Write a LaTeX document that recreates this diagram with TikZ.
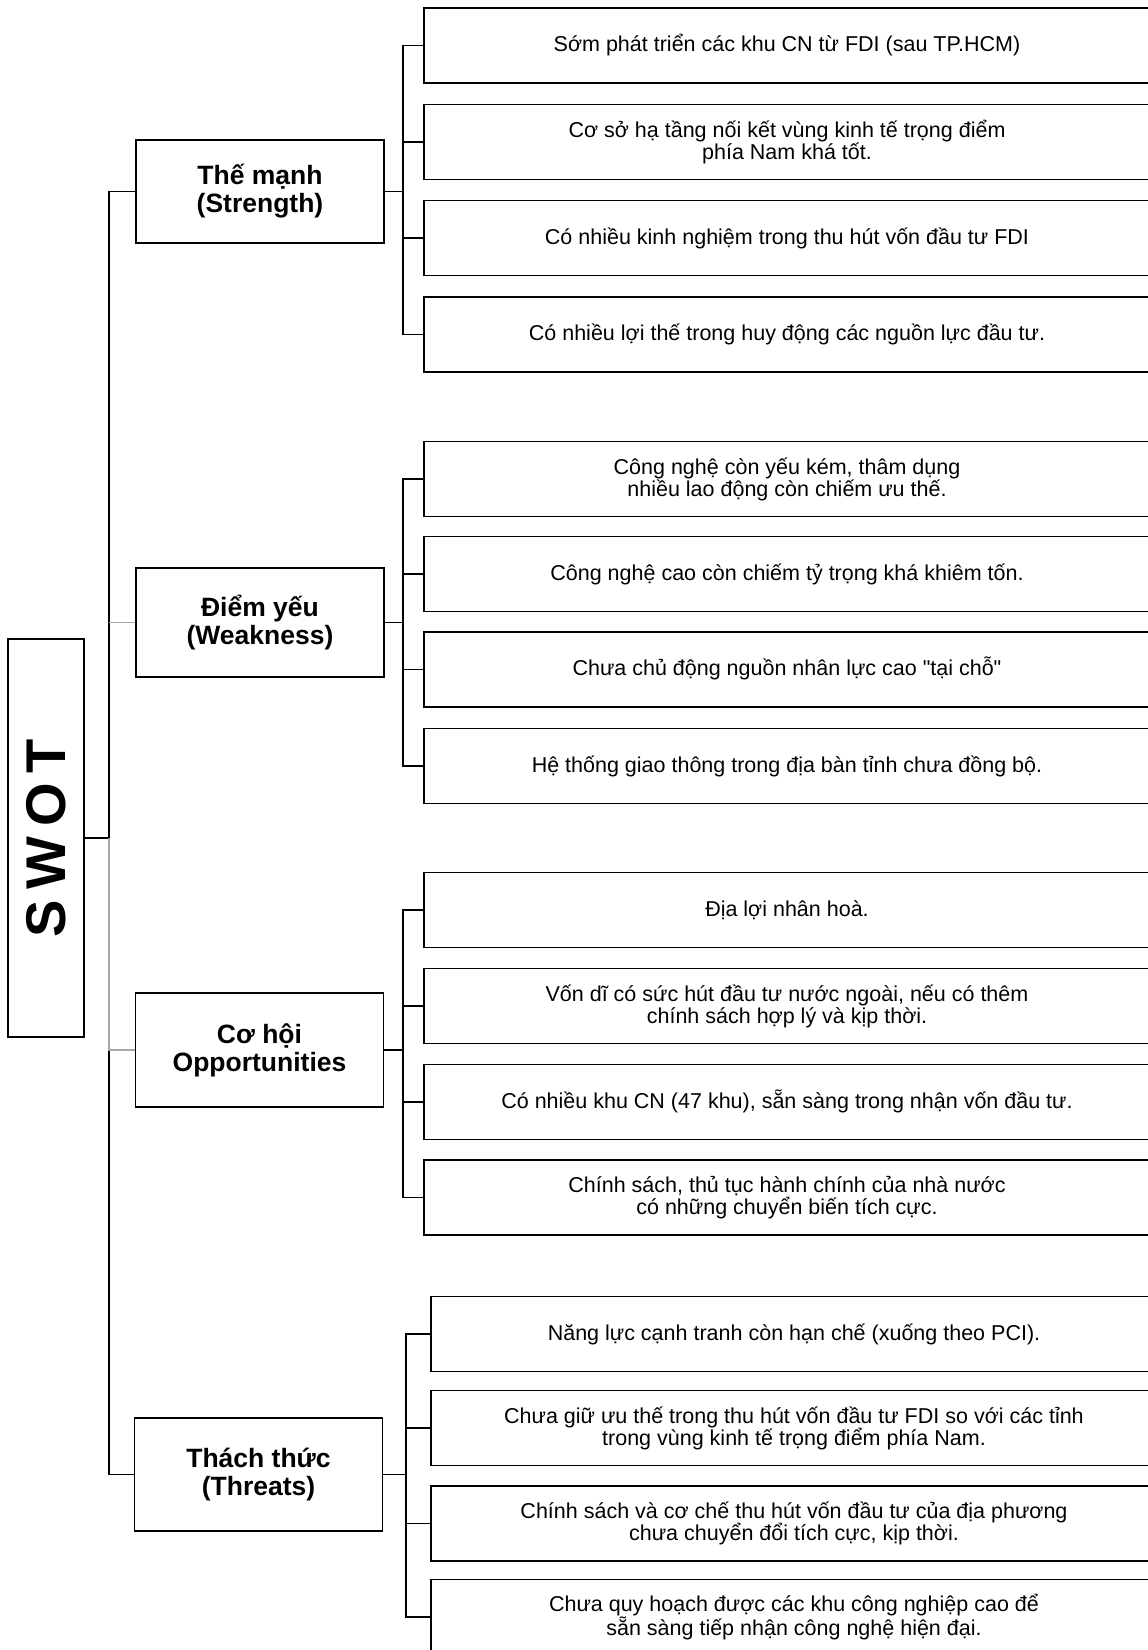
\documentclass[tikz,border=0pt]{standalone}
\usepackage{fontspec}
\setmainfont{Liberation Sans}
\newfontfamily\plainquotefont{Liberation Sans}
\begin{document}
\begin{tikzpicture}[x=1pt,y=-1pt]
\tikzset{
 item/.style={draw, line width=1.3pt, minimum width=726pt, minimum height=75pt, inner sep=0pt, font=\fontsize{21.5}{22}\selectfont},
 multi/.style={align=center},
 single/.style={text height=16.5pt, text depth=4.5pt},
 cat/.style={draw, line width=1.3pt, minimum width=248pt, inner sep=0pt, align=center, font=\bfseries\fontsize{26.5}{28}\selectfont},
 conn/.style={line width=1.3pt, draw=black},
 gconn/.style={line width=1.3pt, draw=black!35},
}
\clip (0,0) rectangle (1148,1650);
\fill[white] (0,0) rectangle (1148,1650);

% SWOT root
\node[draw, line width=1.3pt, minimum width=76pt, minimum height=398pt, inner sep=0pt] (swot) at (46,838) {};
\node[rotate=90, font=\bfseries\fontsize{56}{56}\selectfont, inner sep=0pt] (swotlbl) at (swot.center) {S\hspace{10pt}W\hspace{10pt}O\hspace{10pt}T};

% categories
\node[cat, minimum height=103pt] (S) at (260,191.5) {Thế mạnh\\(Strength)};
\node[cat, minimum height=109pt] (W) at (260,622.5) {Điểm yếu\\(Weakness)};
\node[cat, minimum height=114pt] (O) at (259.5,1050) {Cơ hội\\Opportunities};
\node[cat, minimum height=113pt] (T) at (258.5,1474.5) {Thách thức\\(Threats)};

% strength items
\node[item, single] (S1) at (787,45.5) {Sớm phát triển các khu CN từ FDI (sau TP.HCM)};
\node[item, multi] (S2) at (787,142) {Cơ sở hạ tầng nối kết vùng kinh tế trọng điểm\\phía Nam khá tốt.};
\node[item, single] (S3) at (787,238) {Có nhiều kinh nghiệm trong thu hút vốn đầu tư FDI};
\node[item, single] (S4) at (787,334.5) {Có nhiều lợi thế trong huy động các nguồn lực đầu tư.};

% weakness items
\node[item, multi] (W1) at (787,479) {Công nghệ còn yếu kém, thâm dụng\\nhiều lao động còn chiếm ưu thế.};
\node[item, single] (W2) at (787,574) {Công nghệ cao còn chiếm tỷ trọng khá khiêm tốn.};
\node[item, single] (W3) at (787,669.5) {Chưa chủ động nguồn nhân lực cao {\plainquotefont"tại chỗ"}};
\node[item, single] (W4) at (787,766) {Hệ thống giao thông trong địa bàn tỉnh chưa đồng bộ.};

% opportunity items
\node[item, single] (O1) at (787,910) {Địa lợi nhân hoà.};
\node[item, multi] (O2) at (787,1006) {Vốn dĩ có sức hút đầu tư nước ngoài, nếu có thêm\\chính sách hợp lý và kịp thời.};
\node[item, single] (O3) at (787,1102) {Có nhiều khu CN (47 khu), sẵn sàng trong nhận vốn đầu tư.};
\node[item, multi] (O4) at (787,1197.5) {Chính sách, thủ tục hành chính của nhà nước\\có những chuyển biến tích cực.};

% threat items
\node[item, single] (T1) at (794,1334) {Năng lực cạnh tranh còn hạn chế (xuống theo PCI).};
\node[item, multi] (T2) at (794,1428) {Chưa giữ ưu thế trong thu hút vốn đầu tư FDI so với các tỉnh\\trong vùng kinh tế trọng điểm phía Nam.};
\node[item, multi] (T3) at (794,1523.5) {Chính sách và cơ chế thu hút vốn đầu tư của địa phương\\chưa chuyển đổi tích cực, kịp thời.};
\node[item, multi] (T4) at (794,1617) {Chưa quy hoạch được các khu công nghiệp cao để\\sẵn sàng tiếp nhận công nghệ hiện đại.};

% main trunk
\coordinate (trunk) at (109,838);
\draw[conn] (swot.east) -- (trunk);
\draw[conn] (S.west) -- (trunk |- S.west) -- (trunk |- T.west) -- (T.west);
\draw[gconn] (trunk) -- (trunk |- O.west) -- (O.west);
\draw[gconn] (trunk |- W.west) -- (W.west);

% sub trunks
\coordinate (jS) at (403,0);
\coordinate (jW) at (403,0);
\coordinate (jO) at (403,0);
\coordinate (jT) at (406,0);

\draw[conn] (S.east) -- (jS |- S.east);
\draw[conn] (S1.west) -- (jS |- S1.west) -- (jS |- S4.west) -- (S4.west);
\draw[conn] (jS |- S2.west) -- (S2.west);
\draw[conn] (jS |- S3.west) -- (S3.west);

\draw[conn] (W.east) -- (jW |- W.east);
\draw[conn] (W1.west) -- (jW |- W1.west) -- (jW |- W4.west) -- (W4.west);
\draw[conn] (jW |- W2.west) -- (W2.west);
\draw[conn] (jW |- W3.west) -- (W3.west);

\draw[conn] (O.east) -- (jO |- O.east);
\draw[conn] (O1.west) -- (jO |- O1.west) -- (jO |- O4.west) -- (O4.west);
\draw[conn] (jO |- O2.west) -- (O2.west);
\draw[conn] (jO |- O3.west) -- (O3.west);

\draw[conn] (T.east) -- (jT |- T.east);
\draw[conn] (T1.west) -- (jT |- T1.west) -- (jT |- T4.west) -- (T4.west);
\draw[conn] (jT |- T2.west) -- (T2.west);
\draw[conn] (jT |- T3.west) -- (T3.west);
\end{tikzpicture}
\end{document}
